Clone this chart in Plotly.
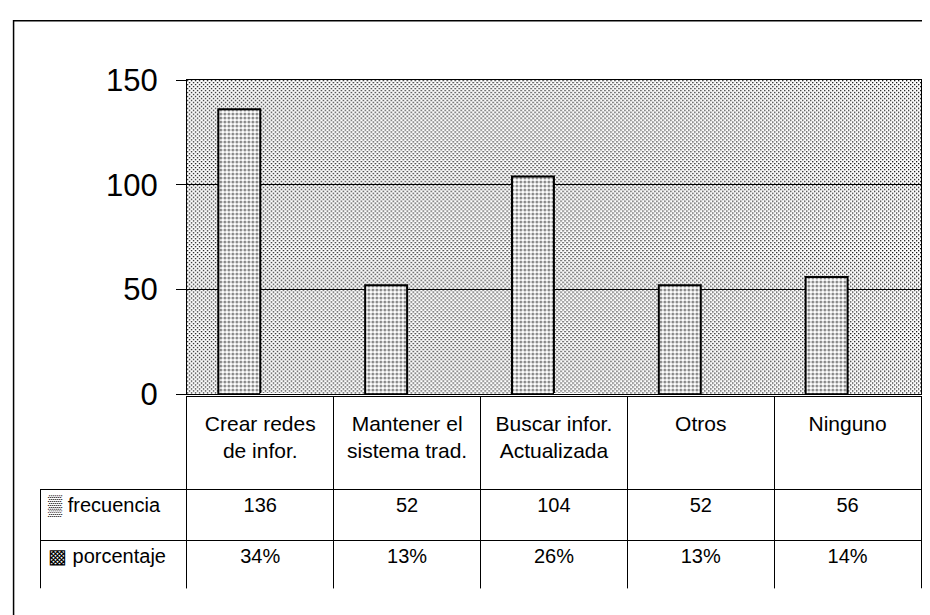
import base64

import plotly.graph_objects as go

categorias = ["Crear redes<br>de infor.", "Mantener el<br>sistema trad.",
              "Buscar infor.<br>Actualizada", "Otros", "Ninguno"]
frecuencia = [136, 52, 104, 52, 56]
porcentaje = [0.34, 0.13, 0.26, 0.13, 0.14]
y_ticks = [0, 50, 100, 150]

FONT = "Liberation Sans, Arial, sans-serif"

# dotted background texture, like the printed chart
svg = (
    '<svg xmlns="http://www.w3.org/2000/svg" width="735" height="318" '
    'preserveAspectRatio="none">'
    '<defs><pattern id="p" width="4" height="4" patternUnits="userSpaceOnUse">'
    '<rect width="4" height="4" fill="#ffffff"/>'
    '<rect x="0" y="0" width="1.3" height="1.3" fill="#111"/>'
    '<rect x="2" y="2" width="1.3" height="1.3" fill="#111"/>'
    '</pattern></defs>'
    '<rect width="735" height="318" fill="url(#p)"/></svg>'
)
bg_uri = "data:image/svg+xml;base64," + base64.b64encode(svg.encode()).decode()

fig = go.Figure()
fig.add_trace(go.Bar(
    x=categorias, y=frecuencia, name="frecuencia",
    marker=dict(color="white", line=dict(color="black", width=2),
                pattern=dict(shape=".", fgcolor="#111", bgcolor="white",
                             size=4, solidity=0.45)),
))
fig.add_trace(go.Bar(
    x=categorias, y=porcentaje, name="porcentaje",
    marker=dict(color="white", line=dict(width=0)),
))

fig.add_trace(go.Table(
    domain=dict(x=[0, 1], y=[0, 0.3786]),
    columnwidth=[147] * 6,
    header=dict(
        values=[""] * 6,
        height=93,
        fill_color="rgba(0,0,0,0)",
        line=dict(color=["rgba(0,0,0,0)"] + ["black"] * 5, width=1),
    ),
    cells=dict(
        values=[["▒ frecuencia", "▩ porcentaje"]]
        + [[f, f"{p:.0%}"] for f, p in zip(frecuencia, porcentaje)],
        height=51,
        align=["left"] + ["center"] * 5,
        fill_color="white",
        line=dict(color="black", width=1),
        font=dict(family=FONT, size=20, color="black"),
    ),
))

# the page adds an 8px body margin; size and margins make up for it
fig.update_layout(
    width=922, height=607,
    margin=dict(l=32, r=8, t=72, b=20),
    paper_bgcolor="white",
    plot_bgcolor="rgba(0,0,0,0)",
    showlegend=False,
    barmode="group",
    bargap=0.4286,
    bargroupgap=0,
    font=dict(family=FONT, color="black"),
    xaxis=dict(domain=[0.1667, 1], ticks="", ticklabelstandoff=10,
               tickfont=dict(family=FONT, size=21, color="black"),
               showline=True, mirror=True, linecolor="black", linewidth=1,
               showgrid=False),
    yaxis=dict(domain=[0.3825, 1], range=[0, 150], tickvals=y_ticks,
               showline=True, mirror=True, linecolor="black", linewidth=1,
               ticks="outside", ticklen=10, tickcolor="black",
               ticklabelstandoff=12,
               showgrid=True, gridcolor="black", gridwidth=1,
               zeroline=False,
               tickfont=dict(family=FONT, size=31, color="black")),
    images=[dict(source=bg_uri, xref="x domain", yref="y domain",
                 x=0, y=1, sizex=1, sizey=1, xanchor="left", yanchor="top",
                 sizing="stretch", layer="below")],
    shapes=[dict(type="rect", xref="paper", yref="paper",
                 x0=-0.03, x1=1.1, y0=-0.2, y1=1.1165,
                 line=dict(color="black", width=1.5))],
)

fig.write_html("out.html")
